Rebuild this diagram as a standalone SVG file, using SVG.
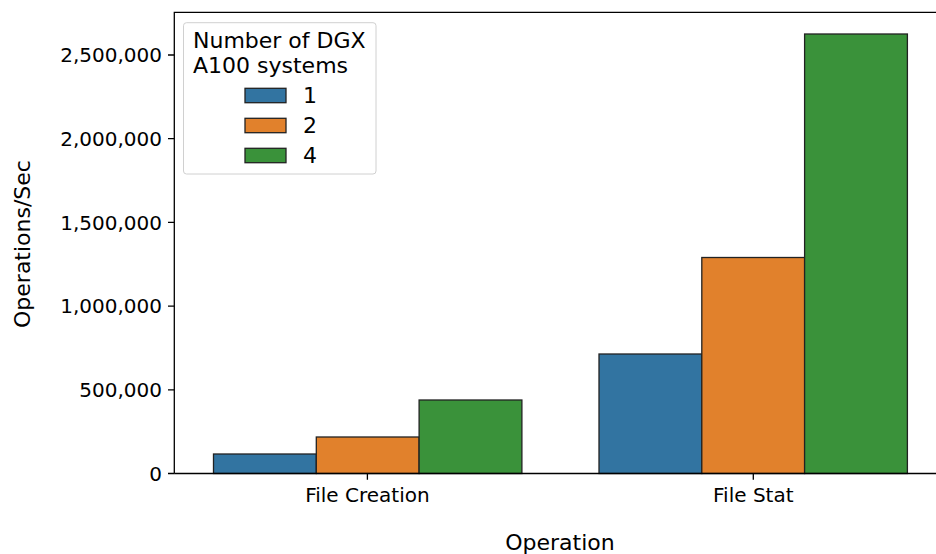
<svg xmlns="http://www.w3.org/2000/svg" width="936" height="554" viewBox="0 0 936 554">
<style>
text{font-family:"DejaVu Sans",sans-serif;fill:#000}
.tick{font-size:20px}
.lab{font-size:22px}
.leg{font-size:22px}
.b1{fill:#3274a1}
.b2{fill:#e1812c}
.b3{fill:#3a923a}
.bar{stroke:#222;stroke-width:1.3}
.ax{stroke:#000;stroke-width:1.3;fill:none}
</style>
<rect width="936" height="554" fill="#fff"/>
<g id="bars">
<rect class="bar b1" x="213.5" y="454" width="102.8" height="19.5"/>
<rect class="bar b2" x="316.3" y="437" width="102.8" height="36.5"/>
<rect class="bar b3" x="419.1" y="400" width="102.8" height="73.5"/>
<rect class="bar b1" x="599" y="354" width="102.8" height="119.5"/>
<rect class="bar b2" x="701.8" y="257.5" width="102.8" height="216"/>
<rect class="bar b3" x="804.6" y="34" width="102.8" height="439.5"/>
</g>
<g id="axes">
<path class="ax" d="M174.3 473.5V12.3H936M174.3 473.5H936"/>
<path class="ax" d="M168 473.5h6.3M168 389.8h6.3M168 306.1h6.3M168 222.4h6.3M168 138.7h6.3M168 55h6.3M367.4 473.5v6.3M753.3 473.5v6.3"/>
<g class="tick" text-anchor="end">
<text x="162" y="480.8">0</text>
<text x="162" y="397.1">500,000</text>
<text x="162" y="313.4">1,000,000</text>
<text x="162" y="229.7">1,500,000</text>
<text x="162" y="146">2,000,000</text>
<text x="162" y="62.3">2,500,000</text>
</g>
<g class="tick" text-anchor="middle">
<text x="367.4" y="501.5">File Creation</text>
<text x="753.3" y="501.5">File Stat</text>
</g>
<text class="lab" x="560" y="550" text-anchor="middle">Operation</text>
<text class="lab" transform="translate(30 244) rotate(-90)" text-anchor="middle">Operations/Sec</text>
</g>
<g id="legend">
<rect x="183.5" y="22.7" width="192.5" height="151.3" rx="3" fill="#fff" fill-opacity="0.8" stroke="#d0d0d0" stroke-width="1"/>
<text class="leg" x="193" y="48">Number of DGX</text>
<text class="leg" x="193" y="73">A100 systems</text>
<rect class="bar b1" x="245" y="88.3" width="41" height="14.4"/>
<rect class="bar b2" x="245" y="118.3" width="41" height="14.4"/>
<rect class="bar b3" x="245" y="148.3" width="41" height="14.4"/>
<text class="leg" x="303" y="103">1</text>
<text class="leg" x="303" y="133">2</text>
<text class="leg" x="303" y="163">4</text>
</g>
</svg>
